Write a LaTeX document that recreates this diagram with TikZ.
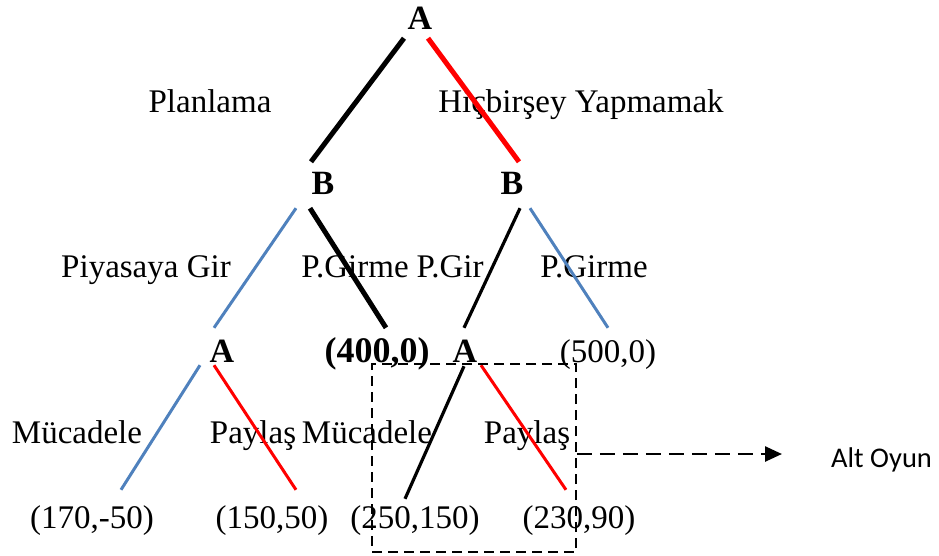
\documentclass[tikz,border=0pt]{standalone}
\usepackage{fontspec}
\setmainfont{Liberation Serif}
\newfontfamily\altfont{Carlito}
\usetikzlibrary{arrows.meta}
\definecolor{lblue}{HTML}{4F81BD}
\definecolor{lred}{HTML}{FF0000}
\begin{document}
\begin{tikzpicture}[x=1pt,y=-1pt,
  lbl/.style={anchor=base,inner sep=0pt,font=\fontsize{33}{36}\selectfont},
  pnode/.style={anchor=base,inner sep=0pt,text height=22pt,text depth=7pt,font=\fontsize{34}{36}\selectfont\bfseries},
  leaf/.style={anchor=base,inner sep=0pt,text height=22pt,text depth=7pt,font=\fontsize{33}{36}\selectfont},
  thickblack/.style={line width=5pt,black},
  thickred/.style={line width=5pt,lred},
  thinblack/.style={line width=3.2pt,black},
  thinblue/.style={line width=3pt,lblue},
  thinred/.style={line width=3pt,lred},
  subbox/.style={draw,line width=1.5pt,dash pattern=on 10pt off 6pt,inner sep=0pt,minimum width=204pt,minimum height=188pt},
  subarrow/.style={line width=2.5pt,dash pattern=on 15pt off 8pt,-{Triangle[length=17pt,width=15pt]}}
]
\useasboundingbox (0,0) rectangle (939,555);

% player nodes and payoffs
\node[pnode] (A0) at (420,29) {A};
\node[pnode] (B1) at (323,194) {B};
\node[pnode] (B2) at (512,194) {B};
\node[pnode] (A1) at (222,362) {A};
\node[pnode,font=\fontsize{36}{38}\selectfont\bfseries] (P400) at (377,362) {(400,0)};
\node[pnode] (A2) at (465,362) {A};
\node[leaf] (P500) at (608,362) {(500,0)};
\node[leaf] (L1) at (92,528) {(170,-50)};
\node[leaf] (L2) at (272,528) {(150,50)};
\node[leaf] (L3) at (415,528) {(250,150)};
\node[leaf] (L4) at (579,528) {(230,90)};

% action labels
\node[lbl] (t1) at (210,112) {Planlama};
\node[lbl] (t2) at (581,112) {Hiçbirşey Yapmamak};
\node[lbl] (t3) at (146,277) {Piyasaya Gir};
\node[lbl] (t4) at (355,277) {P.Girme};
\node[lbl] (t5) at (450,277) {P.Gir};
\node[lbl] (t6) at (594,277) {P.Girme};
\node[lbl] (t7) at (77,443) {Mücadele};
\node[lbl] (t8) at (253,443) {Paylaş};
\node[lbl] (t9) at (367,443) {Mücadele};
\node[lbl] (t10) at (527,443) {Paylaş};

% edges
\draw[thickblack] ([shift={(-16,2)}]A0.south) -- ([shift={(-12,-10)}]B1.north);
\draw[thickred]   ([shift={(8,2)}]A0.south) -- ([shift={(7,-10)}]B2.north);
\draw[thinblue]   ([shift={(-27,7)}]B1.south) -- ([shift={(-8,-12)}]A1.north);
\draw[thickblack] ([shift={(-13,7)}]B1.south) -- ([shift={(9,-12)}]P400.north);
\draw[thinblack]  ([shift={(8,7)}]B2.south) -- ([shift={(-1,-12)}]A2.north);
\draw[thinblue]   ([shift={(18,7)}]B2.south) -- ([shift={(0,-12)}]P500.north);
\draw[thinblue]   ([shift={(-22,-4)}]A1.south) -- ([shift={(29,-16)}]L1.north);
\draw[thinred]    ([shift={(-8,-4)}]A1.south) -- ([shift={(24,-16)}]L2.north);
\draw[thinblack]  ([shift={(-1,-3)}]A2.south) -- ([shift={(-10,-7)}]L3.north);
\draw[thinred]    ([shift={(16,-4)}]A2.south) -- ([shift={(-13,-16)}]L4.north);

% subgame box and arrow
\node[subbox] (box) at (474,458) {};
\node[anchor=base west,inner sep=0pt,font=\altfont\fontsize{28.5}{30}\selectfont] (alt) at (831,467) {Alt Oyun};
\coordinate (arrowend) at (782,454);
\draw[subarrow] ([yshift=4pt]box.east) -- (arrowend);
\end{tikzpicture}
\end{document}
